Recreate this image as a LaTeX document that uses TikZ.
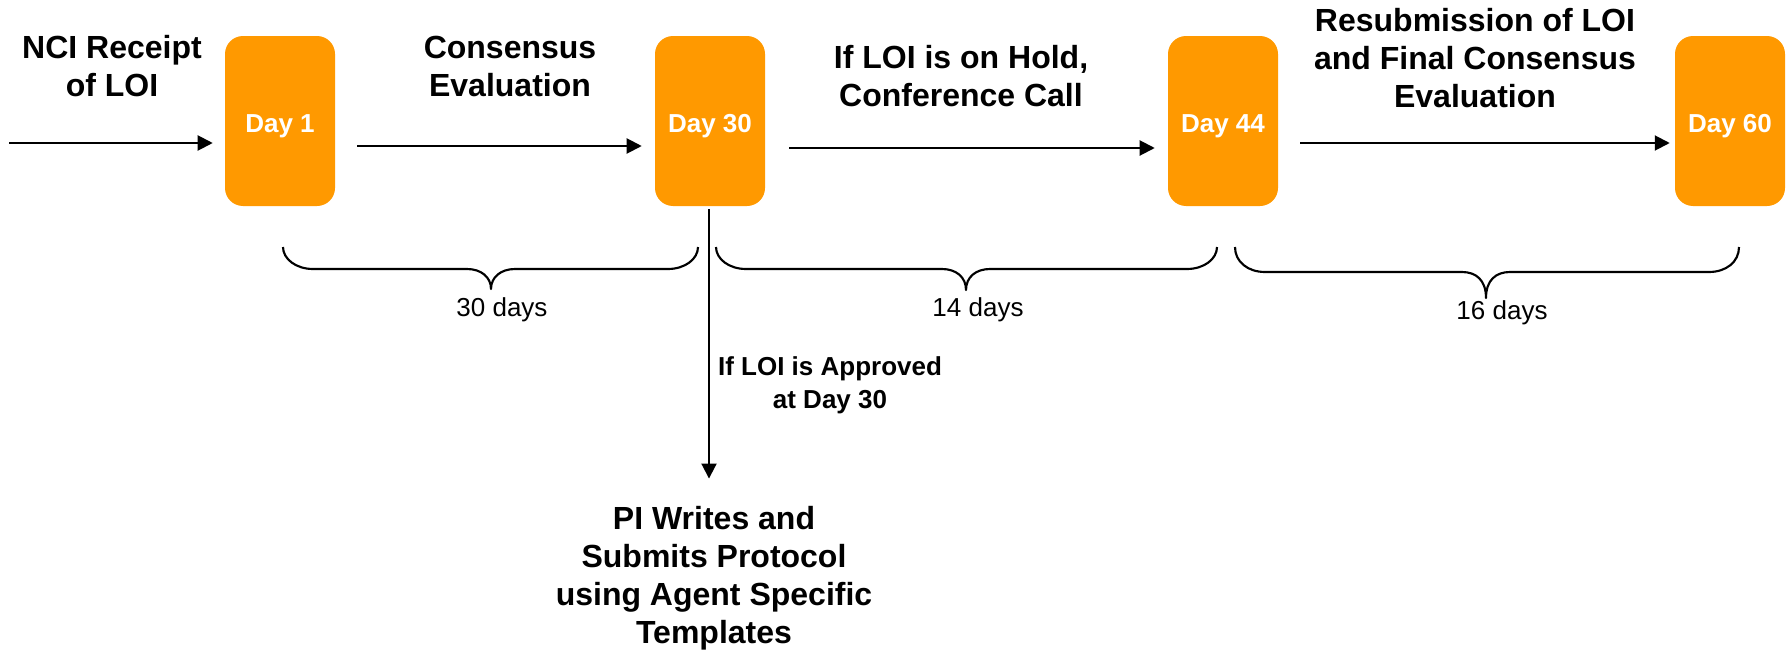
\documentclass[tikz,border=0pt]{standalone}
\usepackage{fontspec}
\setmainfont{Liberation Sans}
\usetikzlibrary{arrows.meta,calc}
\definecolor{dayorange}{HTML}{FF9900}

% curly brace under a time span: left x, right x, cusp x, flat y, tip y (ends start at y=247)
\newcommand{\durbrace}[5]{%
  \draw[bracepath] (#1,247)
    .. controls (#1,{#4-10}) and ({#1+13},#4) .. ({#1+30},#4)
    -- ({#3-24},#4)
    .. controls ({#3-10},#4) and (#3,{#4+8}) .. (#3,#5)
    .. controls (#3,{#4+8}) and ({#3+10},#4) .. ({#3+24},#4)
    -- ({#2-30},#4)
    .. controls ({#2-13},#4) and (#2,{#4-10}) .. (#2,247);%
}

\begin{document}
\begin{tikzpicture}[x=0.75pt,y=-0.75pt,
  daybox/.style={fill=dayorange, rounded corners=13.5pt, minimum width=82.5pt,
    minimum height=127.5pt, inner sep=0pt, text=white, text height=16.5pt, text depth=0pt,
    font=\bfseries\fontsize{19.5}{22}\selectfont},
  phase/.style={align=center, anchor=base, inner sep=0pt,
    font=\bfseries\fontsize{24}{28.5}\selectfont},
  cond/.style={align=center, anchor=base, inner sep=0pt,
    font=\bfseries\fontsize{19.5}{24.75}\selectfont},
  durlabel/.style={anchor=base, inner sep=0pt, font=\fontsize{19.5}{22}\selectfont},
  link/.style={line width=1.5pt, -{Triangle[length=11.25pt,width=11.25pt]}},
  bracepath/.style={line width=1.6pt, line join=round}
]
\useasboundingbox (0,0) rectangle (1789,653);

% milestone boxes
\node[daybox] (d1)  at (280,121)  {Day 1};
\node[daybox] (d30) at (710,121)  {Day 30};
\node[daybox] (d44) at (1223,121) {Day 44};
\node[daybox] (d60) at (1730,121) {Day 60};

% phase captions (anchored at the baseline of their last line)
\node[phase] (receipt)   at (112,96)  {NCI Receipt\\of LOI};
\node[phase] (consensus) at (510,96)  {Consensus\\Evaluation};
\node[phase] (hold)      at (961,106) {If LOI is on Hold,\\Conference Call};
\node[phase] (resub)     at (1475,107) {Resubmission of LOI\\and Final Consensus\\Evaluation};
\node[cond]  (approved)  at (830,408) {If LOI is Approved\\at Day 30};
\node[phase] (pi)        at (714,643) {PI Writes and\\Submits Protocol\\using Agent Specific\\Templates};

% timeline arrows
\coordinate (entry) at (9,143);
\draw[link] (entry) -- ($(d1.west)+(-12,22)$);
\draw[link] ($(d1.east)+(22,25)$)  -- ($(d30.west)+(-13,25)$);
\draw[link] ($(d30.east)+(24,27)$) -- ($(d44.west)+(-13,27)$);
\draw[link] ($(d44.east)+(22,22)$) -- ($(d60.west)+(-5,22)$);

% branch to protocol writing
\draw[link] ($(d30.south)+(-1,3)$) -- ($(d30.south |- pi.north)+(-1,-27)$);

% durations
\durbrace{283}{698}{491}{269}{289}
\durbrace{716}{1217}{966}{269}{290}
\durbrace{1235}{1739}{1486}{272}{298}
\node[durlabel] (l30) at (502,316)  {30 days};
\node[durlabel] (l14) at (978,316)  {14 days};
\node[durlabel] (l16) at (1502,319) {16 days};
\end{tikzpicture}
\end{document}
